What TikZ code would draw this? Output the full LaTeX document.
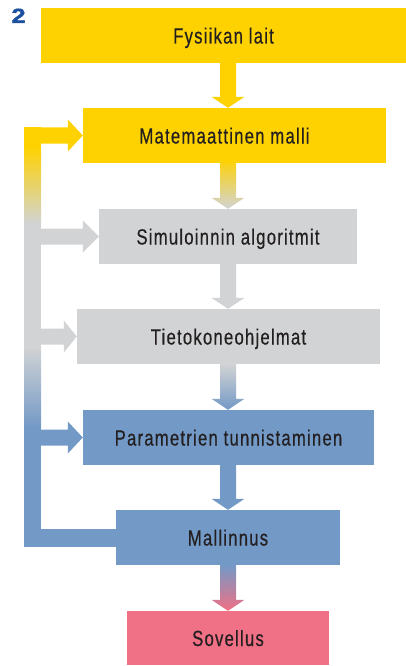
\documentclass[tikz,border=0pt]{standalone}
\usepackage{fontspec}
\setmainfont{Liberation Sans}[FakeStretch=0.76,LetterSpace=5.5,FakeBold=0.4]
\newfontfamily\numberfont{Liberation Sans}[FakeStretch=1.25,FakeBold=1.8]
\usetikzlibrary{calc}

\definecolor{lawyellow}{RGB}{254,210,0}
\definecolor{simgrey}{RGB}{209,211,212}
\definecolor{parblue}{RGB}{115,153,198}
\definecolor{apppink}{RGB}{240,112,133}
\definecolor{textdark}{RGB}{35,31,32}
\definecolor{numblue}{RGB}{28,80,158}

\tikzset{
  stage/.style={minimum height=55pt, inner sep=0pt, text height=19pt, text depth=3pt,
    text=textdark, font=\fontsize{22}{23}\selectfont},
}

% block arrow between two stages, shaded from top to bottom
\newcommand{\stagearrow}[4]{%
  \shade[top color=#3, bottom color=#4]
    ($(#1.south -| sim)+(-8,0)$) -- ($(#2.north -| sim)+(-8,11)$) -- ($(#2.north -| sim)+(-16.5,11)$)
    -- (#2.north -| sim) -- ($(#2.north -| sim)+(16.5,11)$) -- ($(#2.north -| sim)+(8,11)$)
    -- ($(#1.south -| sim)+(8,0)$) -- cycle;
}
% block arrow from the feedback bar into a stage
\newcommand{\sidearrow}[3]{%
  \fill[#2] ($(#1.west -| bus)+(0,8)$) -- ($(#1.west)+(-#3,8)$) -- ($(#1.west)+(-#3,16)$)
    -- (#1.west) -- ($(#1.west)+(-#3,-16)$) -- ($(#1.west)+(-#3,-8)$)
    -- ($(#1.west -| bus)+(0,-8)$) -- cycle;
}

\begin{document}
\begin{tikzpicture}[x=1pt,y=1pt]
\useasboundingbox (0,0) rectangle (406,-666);

% Figure number
\node[text=numblue, inner sep=0pt, anchor=base, font=\numberfont\bfseries\fontsize{20.5}{21}\selectfont] (fignum) at (18.5,-23) {2};

% Stages
\node[stage, fill=lawyellow, minimum width=365pt] (fys) at (223.5,-35.5) {Fysiikan lait};
\node[stage, fill=lawyellow, minimum width=303pt] (mat) at (234.5,-135.5) {\hspace*{-20pt}Matemaattinen malli};
\node[stage, fill=simgrey, minimum width=258pt] (sim) at (228,-236.5) {Simuloinnin algoritmit};
\node[stage, fill=simgrey, minimum width=303pt] (tie) at (228.5,-336.5) {Tietokoneohjelmat};
\node[stage, fill=parblue, minimum width=291pt] (par) at (228.5,-437.5) {Parametrien tunnistaminen};
\node[stage, fill=parblue, minimum width=224pt] (mal) at (228,-537.5) {Mallinnus};
\node[stage, fill=apppink, minimum width=202pt, minimum height=54pt] (sov) at (228,-638) {Sovellus};

% Arrows down the chain
\stagearrow{fys}{mat}{lawyellow}{lawyellow}
\stagearrow{mat}{sim}{lawyellow!90!simgrey}{simgrey}
\stagearrow{sim}{tie}{simgrey}{simgrey}
\stagearrow{tie}{par}{simgrey}{parblue}
\stagearrow{par}{mal}{parblue}{parblue}
\stagearrow{mal}{sov}{parblue}{apppink}

% Feedback bar
\coordinate (bus) at (32.5,0);
\fill[lawyellow] (24,-127.5) rectangle (41,-147.5);
\shade[top color=lawyellow, bottom color=simgrey] (24,-147) rectangle (41,-223.5);
\fill[simgrey] (24,-223) rectangle (41,-347.5);
\shade[top color=simgrey, bottom color=parblue] (24,-347) rectangle (41,-427.5);
\fill[parblue] (24,-427) rectangle (41,-546.5);
\fill[parblue] ($(mal.west -| bus)+(-8.5,9)$) rectangle ($(mal.west)+(0.5,-9)$);

\sidearrow{mat}{lawyellow}{15}
\sidearrow{sim}{simgrey}{16}
\sidearrow{tie}{simgrey}{13}
\sidearrow{par}{parblue}{15}

\end{tikzpicture}
\end{document}
